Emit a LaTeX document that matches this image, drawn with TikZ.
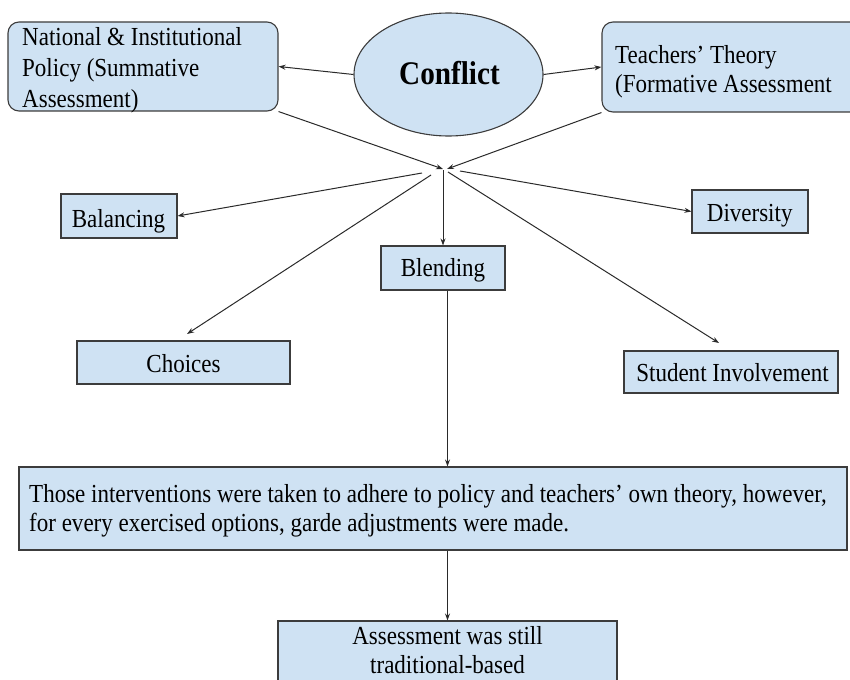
\documentclass[tikz,border=0pt]{standalone}
\usepackage{fontspec}
\setmainfont{Liberation Serif}[FakeStretch=0.885]
\usetikzlibrary{shapes.geometric,arrows.meta}
\definecolor{boxfill}{HTML}{CFE2F3}
\definecolor{bord}{HTML}{3C3C3C}
\definecolor{linec}{HTML}{2A2A2A}
\newcommand\fl{\rule{0pt}{20pt}}
\begin{document}
\begin{tikzpicture}[x=1pt,y=-1pt,
  box/.style={draw=bord, fill=boxfill, line width=1.1pt, inner sep=0pt},
  txt/.style={inner sep=0pt, font=\fontsize{26}{30}\selectfont},
  arr/.style={draw=linec, line width=1pt, -{Stealth[length=7pt,width=5pt]}}]
\useasboundingbox (0,0) rectangle (850,679);
% boxes
\node[box, rounded corners=11pt, minimum width=270pt, minimum height=89pt] (tl) at (143,66.5) {};
\node[box, rounded corners=11pt, minimum width=262pt, minimum height=90pt] (tr) at (733,67) {};
\node[box, ellipse, minimum width=189pt, minimum height=123pt] (conf) at (448.5,74.5) {};
\node[box, minimum width=116pt, minimum height=44pt] (bal) at (119,216) {};
\node[box, minimum width=116pt, minimum height=43pt] (div) at (750,211.5) {};
\node[box, minimum width=124pt, minimum height=44pt] (blend) at (443,268) {};
\node[box, minimum width=213pt, minimum height=43pt] (cho) at (183.5,362.5) {};
\node[box, minimum width=214pt, minimum height=42pt] (stu) at (731,372) {};
\node[box, minimum width=828pt, minimum height=83pt] (big) at (433,508.5) {};
\node[box, minimum width=339pt, minimum height=75pt] (ass) at (447.5,658.5) {};
% texts
\node[txt, align=left, anchor=north west, font=\fontsize{26}{31}\selectfont] (tltx) at (22,25)
  {\fl National \& Institutional\\Policy (Summative\\Assessment)};
\node[txt, align=left, anchor=north west, font=\fontsize{26}{29.5}\selectfont] (trtx) at (615,43)
  {\fl Teachers’ Theory\\(Formative Assessment};
\node[inner sep=0pt, font=\fontsize{33}{33}\selectfont\bfseries, anchor=base] (conftx) at (449.5,85) {Conflict};
\node[txt, anchor=base] (baltx) at (118.5,227) {Balancing};
\node[txt, anchor=base] (chotx) at (183.5,372.7) {Choices};
\node[txt, anchor=base] (bletx) at (443,276.7) {Blending};
\node[txt, anchor=base] (divtx) at (749.7,221.7) {Diversity};
\node[txt, anchor=base] (stutx) at (732.5,381.7) {Student Involvement};
\node[txt, align=left, anchor=north west, font=\fontsize{26}{29}\selectfont] (bigtx) at (29,482.7)
  {\fl Those interventions were taken to adhere to policy and teachers’ own theory, however,\\for every exercised options, garde adjustments were made.};
\node[txt, align=center, anchor=north, font=\fontsize{26}{29}\selectfont] (asstx) at (447.5,624)
  {\fl Assessment was still\\traditional-based};
% connector points
\coordinate (hubL) at (443,169);
\coordinate (hubR) at (447,169);
\coordinate (sBal) at (422,173);
\coordinate (sCho) at (431,175);
\coordinate (sBle) at (443,170);
\coordinate (sStu) at (448,172);
\coordinate (sDiv) at (460,171);
\coordinate (eCho) at (187,334);
\coordinate (eStu) at (719,343);
\coordinate (vx) at (447.5,0);
% connectors
\draw[arr] (conf.west) -- (tl.east);
\draw[arr] (conf.east) -- (tr.west);
\draw[arr] (tl.south east) -- (hubL);
\draw[arr] (tr.south west) -- (hubR);
\draw[arr] (sBal) -- (bal.east);
\draw[arr] (sCho) -- (eCho);
\draw[arr] (sBle) -- (blend.north);
\draw[arr] (sStu) -- (eStu);
\draw[arr] (sDiv) -- (div.west);
\draw[arr] (blend.south -| vx) -- (big.north -| vx);
\draw[arr] (big.south -| vx) -- (ass.north);
\end{tikzpicture}
\end{document}
